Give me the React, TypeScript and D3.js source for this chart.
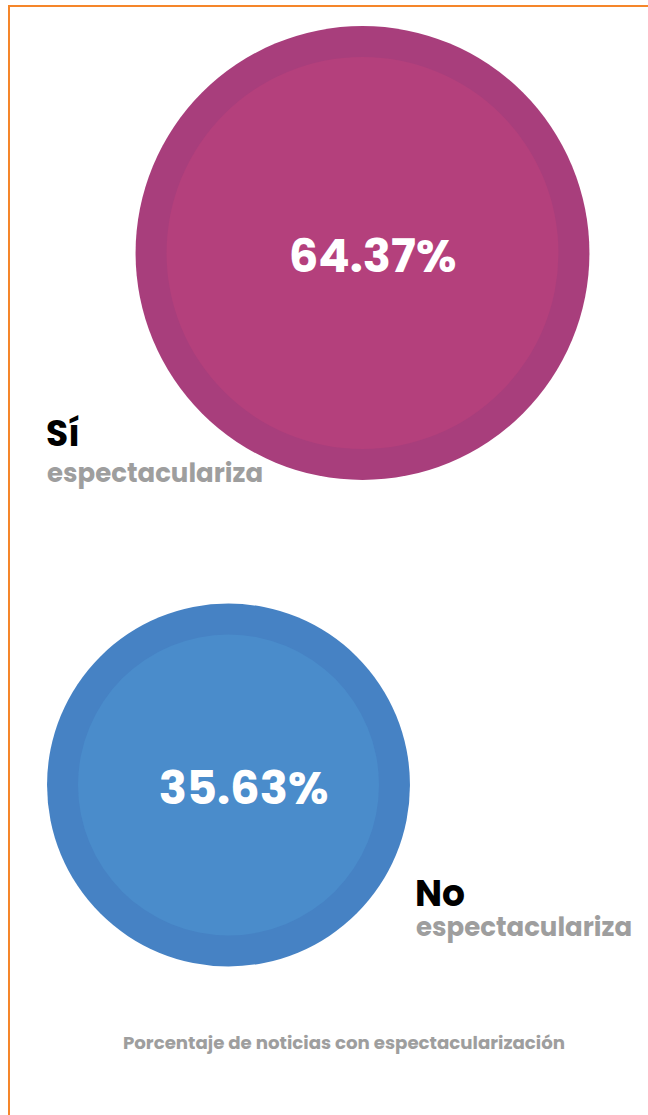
import React from "react";
import * as d3 from "d3";

const categories = ["Sí", "No"];
const subLabels = ["espectaculariza", "espectaculariza"];
const values = [64.37, 35.63];
const outerColors = ["#a83e7c", "#4682c4"];
const innerColors = ["#b4407c", "#4a8ccb"];
const footer = "Porcentaje de noticias con espectacularización";

const W = 648;
const H = 1115;
const FONT = "Poppins, Inter, 'Open Sans', sans-serif";

export default function App() {
  const r = d3.scaleLinear().domain([0, 100]).range([125.1, 283.3]);
  const cy = d3.scalePoint<string>().domain(categories).range([253, 785]);
  const cx = d3.scalePoint<string>().domain(categories).range([362.5, 228.5]);
  const ring = 31;

  const layout = [
    { labelX: 46, labelY: 446, subY: 482, textDx: 10 },
    { labelX: 415, labelY: 906, subY: 936, textDx: 15 },
  ];

  return (
    <svg
      width={W}
      height={H}
      style={{ position: "absolute", left: 0, top: 0 }}
    >
      <rect x={0} y={0} width={W} height={H} fill="#ffffff" />
      <line x1={8} x2={W} y1={6} y2={6} stroke="#f5862a" strokeWidth={2} />
      <line x1={9} x2={9} y1={5} y2={H} stroke="#f5862a" strokeWidth={2} />
      {categories.map((c, i) => {
        const R = r(values[i]);
        const x = cx(c)!;
        const y = cy(c)!;
        const L = layout[i];
        return (
          <g key={c}>
            <circle cx={x} cy={y} r={R} fill={outerColors[i]} />
            <circle cx={x} cy={y} r={R - ring} fill={innerColors[i]} />
            <text
              x={x + L.textDx}
              y={y + 19}
              textAnchor="middle"
              fill="#ffffff"
              fontFamily={FONT}
              fontWeight={700}
              fontSize={46.5}
            >
              {values[i].toFixed(2)}%
            </text>
            <text
              x={L.labelX}
              y={L.labelY}
              fill="#000000"
              fontFamily={FONT}
              fontWeight={700}
              fontSize={36}
            >
              {c}
            </text>
            <text
              x={L.labelX + 1}
              y={L.subY}
              fill="#9e9e9e"
              fontFamily={FONT}
              fontWeight={700}
              fontSize={26}
            >
              {subLabels[i]}
            </text>
          </g>
        );
      })}
      <text
        x={344}
        y={1049}
        textAnchor="middle"
        fill="#9e9e9e"
        fontFamily={FONT}
        fontWeight={700}
        fontSize={18.2}
      >
        {footer}
      </text>
    </svg>
  );
}
